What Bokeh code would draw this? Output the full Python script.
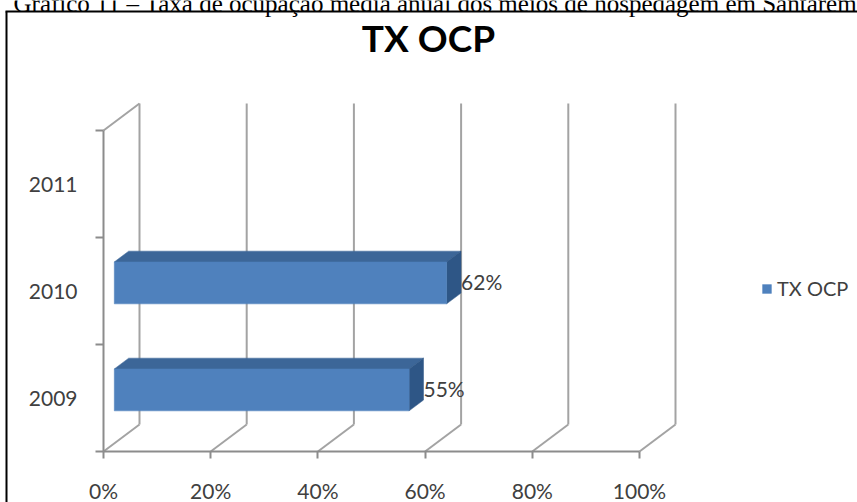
from bokeh.plotting import figure
from bokeh.models import Range1d, FixedTicker, Legend, LegendItem
from bokeh.core.properties import value
from bokeh.embed import file_html
from bokeh.resources import INLINE

# ---- data -------------------------------------------------------------
years = ["2009", "2010", "2011"]
tx_ocp = [55, 62, None]          # occupancy rate in percent (no figure for 2011)
x_ticks = [0, 20, 40, 60, 80, 100]
x_tick_labels = ["0%", "20%", "40%", "60%", "80%", "100%"]
series_name = "TX OCP"
caption = "Gráfico 11 – Taxa de ocupação média anual dos meios de hospedagem em Santarém"

# ---- geometry of the pseudo-3D plot box --------------------------------
W, H = 857, 502
X0_PX, Y0_PX = 103, 451        # canvas position of 0% / bottom of first category
PX_PER_PCT = 5.36
PX_PER_CAT = 107
DEPTH_PX = (36, -27)           # screen offset from front edge to back wall
F0, F1 = 0.3, 0.7              # bar front / back as fraction of the depth
HALF_BAR = 0.196               # half of the bar thickness, in category units

def px_to_x(px):
    return (px - X0_PX) / PX_PER_PCT

def py_to_y(py):
    return (Y0_PX - py) / PX_PER_CAT

DX = DEPTH_PX[0] / PX_PER_PCT
DY = -DEPTH_PX[1] / PX_PER_CAT
N = len(years)

p = figure(width=W, height=H,
           x_range=Range1d(px_to_x(0), px_to_x(W)),
           y_range=Range1d(py_to_y(H), py_to_y(0)),
           min_border=0, output_backend="svg", toolbar_location=None)
p.outline_line_color = None
p.grid.visible = False
p.background_fill_color = "white"
p.border_fill_color = "white"

GRID = "#a3a3a3"
AXIS = "#8c8c8c"
TEXT = "#404040"
FONT = "Lato"

# back wall verticals
p.segment(x0=[t + DX for t in x_ticks], y0=[DY] * len(x_ticks),
          x1=[t + DX for t in x_ticks], y1=[N + DY] * len(x_ticks),
          line_color=GRID, line_width=2)
# floor diagonals
p.segment(x0=x_ticks, y0=[0] * len(x_ticks),
          x1=[t + DX for t in x_ticks], y1=[DY] * len(x_ticks),
          line_color=GRID, line_width=2)
# top edge of the side wall
p.segment(x0=[0], y0=[N], x1=[DX], y1=[N + DY], line_color=GRID, line_width=2)

# ---- bars ---------------------------------------------------------------
FRONT, TOP, SIDE = "#4f81bd", "#3c6698", "#2e5686"
bv, bc = [], []
for i, v in enumerate(tx_ocp):
    if v is not None:
        bv.append(v)
        bc.append(i + 0.5)

top_xs, top_ys, side_xs, side_ys = [], [], [], []
for v, c in zip(bv, bc):
    yt0 = c + HALF_BAR + F0 * DY
    yt1 = c + HALF_BAR + F1 * DY
    yb0 = c - HALF_BAR + F0 * DY
    yb1 = c - HALF_BAR + F1 * DY
    top_xs.append([F0 * DX, v + F0 * DX, v + F1 * DX, F1 * DX])
    top_ys.append([yt0, yt0, yt1, yt1])
    side_xs.append([v + F0 * DX, v + F1 * DX, v + F1 * DX, v + F0 * DX])
    side_ys.append([yb0, yb1, yt1, yt0])

p.patches(xs=top_xs, ys=top_ys, fill_color=TOP, line_color=TOP, line_width=0.5)
p.patches(xs=side_xs, ys=side_ys, fill_color=SIDE, line_color=SIDE, line_width=0.5)
front = p.quad(left=[F0 * DX] * len(bv), right=[v + F0 * DX for v in bv],
               bottom=[c - HALF_BAR + F0 * DY for c in bc],
               top=[c + HALF_BAR + F0 * DY for c in bc],
               fill_color=FRONT, line_color=FRONT, line_width=0.5)

# value labels at the end of each bar
p.text(x=[v + F1 * DX for v in bv], y=[c + 0.35 * DY for c in bc],
       text=[f"{v}%" for v in bv], text_align="left", text_baseline="middle",
       text_font=value(FONT), text_font_size="21px", text_color=TEXT)

# ---- axes -----------------------------------------------------------------
xa = p.xaxis[0]
xa.fixed_location = 0
xa.bounds = (0, 100)
xa.ticker = FixedTicker(ticks=x_ticks)
xa.major_label_overrides = {t: l for t, l in zip(x_ticks, x_tick_labels)}
xa.axis_line_color = AXIS
xa.axis_line_width = 2
xa.major_tick_line_color = AXIS
xa.major_tick_line_width = 2
xa.major_tick_out = 7
xa.major_tick_in = 0
xa.minor_tick_line_color = None
xa.major_label_standoff = 19
xa.major_label_text_font = FONT
xa.major_label_text_font_size = "21px"
xa.major_label_text_color = TEXT

ya = p.yaxis[0]
ya.fixed_location = 0
ya.bounds = (0, N)
ya.ticker = FixedTicker(ticks=[i + 0.5 for i in range(N)],
                        minor_ticks=list(range(N + 1)))
ya.major_label_overrides = {i + 0.5: y for i, y in enumerate(years)}
ya.axis_line_color = AXIS
ya.axis_line_width = 2
ya.major_tick_line_color = None
ya.minor_tick_line_color = AXIS
ya.minor_tick_line_width = 2
ya.minor_tick_out = 8
ya.minor_tick_in = 0
ya.major_label_standoff = 18
ya.major_label_text_font = FONT
ya.major_label_text_font_size = "21px"
ya.major_label_text_color = TEXT

# ---- legend ---------------------------------------------------------------
legend = Legend(items=[LegendItem(label=series_name, renderers=[front])],
                location=(761, H - 300), padding=0, margin=0, spacing=0,
                glyph_width=11, glyph_height=11, label_standoff=5,
                label_text_font=FONT, label_text_font_size="20px",
                label_text_color=TEXT, border_line_color=None,
                background_fill_alpha=0)
p.add_layout(legend)

# ---- title, frame and caption ----------------------------------------------
p.text(x=[px_to_x(428)], y=[py_to_y(37)], text=[series_name],
       text_align="center", text_baseline="middle",
       text_font=value(FONT), text_font_style="bold",
       text_font_size="37px", text_color="black")

p.segment(x0=[px_to_x(6), px_to_x(5)], y0=[py_to_y(11), py_to_y(11)],
          x1=[px_to_x(6), px_to_x(W + 5)], y1=[py_to_y(H + 5), py_to_y(11)],
          line_color="black", line_width=2)

p.text(x=[px_to_x(13)], y=[py_to_y(3)], text=[caption],
       text_align="left", text_baseline="alphabetic",
       text_font=value("Liberation Serif"), text_font_size="25px",
       text_color="black")

open("out.html", "w").write(file_html(p, INLINE))
